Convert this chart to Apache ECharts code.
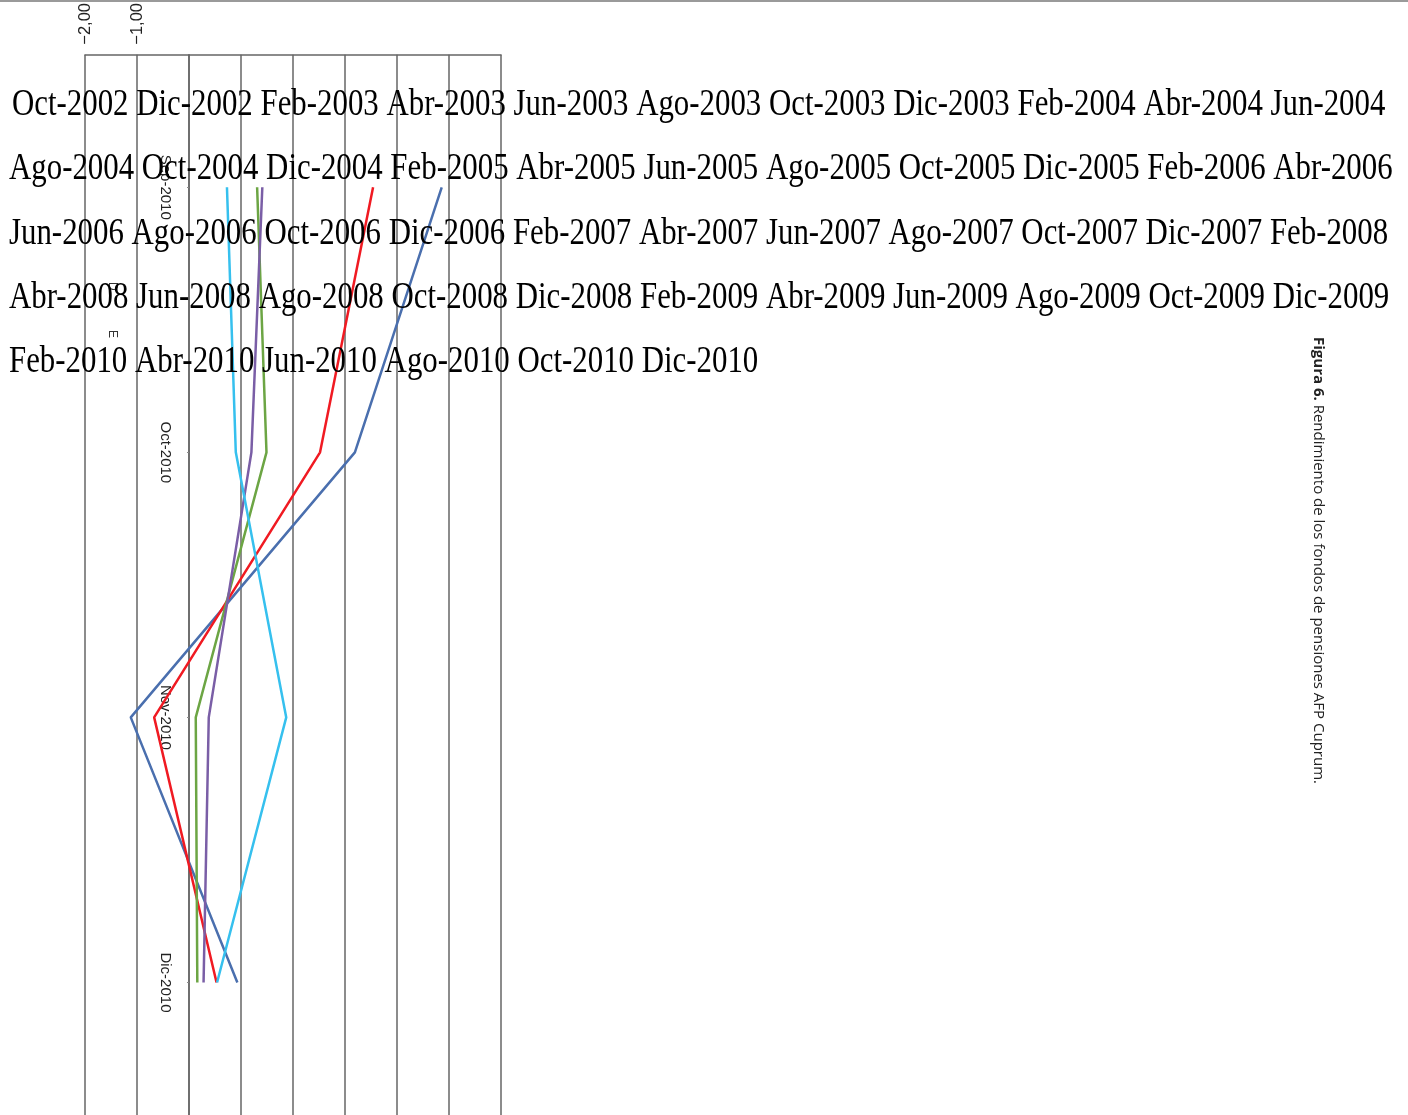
<!DOCTYPE html>
<html>
<head>
<meta charset="utf-8">
<script src="https://cdn.jsdelivr.net/npm/echarts@6/dist/echarts.min.js"></script>
<style>
  html, body { margin: 0; padding: 0; background: #fff; }
  #chart { width: 1408px; height: 1115px; }
</style>
</head>
<body>
<div id="chart"></div>
<script>
// categorias (eje vertical) y rendimientos mensuales (%)
const meses = ['Sep-2010', 'Oct-2010', 'Nov-2010', 'Dic-2010'];
const fondoA = [4.86, 3.19, -1.12, 0.93];
const fondoB = [3.54, 2.52, -0.67, 0.53];
const fondoC = [1.31, 1.49, 0.13, 0.16];
const fondoD = [1.41, 1.20, 0.38, 0.28];
const fondoE = [0.73, 0.90, 1.87, 0.54];

// etiquetas de fechas que se superponen al grafico
const fechas = [
	'Oct-2002', 'Dic-2002', 'Feb-2003', 'Abr-2003', 'Jun-2003', 'Ago-2003', 'Oct-2003', 'Dic-2003', 'Feb-2004', 'Abr-2004', 'Jun-2004',
	'Ago-2004', 'Oct-2004', 'Dic-2004', 'Feb-2005', 'Abr-2005', 'Jun-2005', 'Ago-2005', 'Oct-2005', 'Dic-2005', 'Feb-2006', 'Abr-2006',
	'Jun-2006', 'Ago-2006', 'Oct-2006', 'Dic-2006', 'Feb-2007', 'Abr-2007', 'Jun-2007', 'Ago-2007', 'Oct-2007', 'Dic-2007', 'Feb-2008',
	'Abr-2008', 'Jun-2008', 'Ago-2008', 'Oct-2008', 'Dic-2008', 'Feb-2009', 'Abr-2009', 'Jun-2009', 'Ago-2009', 'Oct-2009', 'Dic-2009',
	'Feb-2010', 'Abr-2010', 'Jun-2010', 'Ago-2010', 'Oct-2010', 'Dic-2010',
];
const porFila = 11;

const caption = 'Rendimiento de los fondos de pensiones AFP Cuprum.';

let myChart = echarts.init(document.getElementById('chart'));

let filas = [];
for (let i = 0; i < fechas.length; i += porFila) {
	filas.push(fechas.slice(i, i + porFila).join(' '));
}

let graphic = [
	{
		type: 'line',
		shape: { x1: 0, y1: 1, x2: 1408, y2: 1 },
		style: { stroke: '#9a9a9a', lineWidth: 2 },
		z: 20,
	},
	{
		type: 'text',
		x: 1318,
		y: 337,
		rotation: -Math.PI / 2,
		style: {
			text: '{b|Figura 6.} ' + caption,
			rich: {
				b: { fontWeight: 'bold', fontFamily: 'Open Sans', fontSize: 15, fill: '#222' },
			},
			fontFamily: 'Open Sans',
			fontSize: 15,
			fill: '#222',
			verticalAlign: 'middle',
		},
	},
	{
		type: 'text',
		x: 112,
		y: 282,
		rotation: -Math.PI / 2,
		style: { text: 'D', fontFamily: 'Liberation Sans', fontSize: 12, fill: '#333', verticalAlign: 'middle' },
	},
	{
		type: 'text',
		x: 112,
		y: 330,
		rotation: -Math.PI / 2,
		style: { text: 'E', fontFamily: 'Liberation Sans', fontSize: 12, fill: '#333', verticalAlign: 'middle' },
	},
];

for (let [i, f] of filas.entries()) {
	graphic.push({
		type: 'text',
		x: i === 0 ? 12 : 9,
		y: 105 + i * 64.3,
		scaleX: 0.812,
		z: 30,
		style: {
			text: f,
			fontFamily: 'Liberation Serif',
			fontSize: 38,
			fill: '#000',
			verticalAlign: 'middle',
		},
	});
}

let colores = ['#4a6fae', '#f01a22', '#6ca544', '#7a5ea6', '#36c0ee'];
let nombres = ['A', 'B', 'C', 'D', 'E'];
let datos = [fondoA, fondoB, fondoC, fondoD, fondoE];

let option = {
	animation: false,
	grid: { left: 85, right: 907, top: 53, bottom: 0 },
	xAxis: {
		type: 'value',
		position: 'top',
		min: -2,
		max: 6,
		interval: 1,
		axisLine: { show: true, onZero: false, lineStyle: { color: '#666', width: 1.5 } },
		axisTick: { show: false },
		splitLine: { show: true, lineStyle: { color: '#666', width: 1.5 } },
		axisLabel: {
			rotate: -90,
			margin: 10,
			fontFamily: 'Liberation Sans',
			fontSize: 16.5,
			color: '#222',
			formatter: (v) => (v < 0 ? '\u2212' + Math.abs(v).toFixed(2).replace('.', ',') : ''),
		},
	},
	yAxis: {
		type: 'category',
		inverse: true,
		data: meses,
		axisLine: { show: true, onZero: true, lineStyle: { color: '#666', width: 1.5 } },
		axisTick: { show: true, length: 2, alignWithLabel: true, lineStyle: { color: '#888' } },
		axisLabel: {
			rotate: -90,
			margin: -88,
			fontFamily: 'Liberation Sans',
			fontSize: 15,
			color: '#222',
		},
	},
	series: [],
	graphic: graphic,
};

for (let [i, d] of datos.entries()) {
	option['series'].push({
		name: nombres[i],
		type: 'line',
		data: d,
		showSymbol: false,
		lineStyle: { color: colores[i], width: 2.5 },
		itemStyle: { color: colores[i] },
	});
}

myChart.setOption(option);
</script>
</body>
</html>
